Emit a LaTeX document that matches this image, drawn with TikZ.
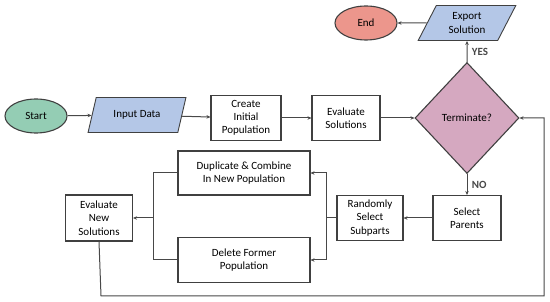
\documentclass[tikz,border=0pt]{standalone}
\usepackage{fontspec}
\setmainfont{Carlito}
\usepackage{tikz}
\usetikzlibrary{arrows.meta, shapes.geometric, positioning}
\definecolor{startgreen}{RGB}{148,205,180}
\definecolor{endred}{RGB}{236,150,140}
\definecolor{iobblue}{RGB}{180,199,231}
\definecolor{decmauve}{RGB}{213,168,192}
\definecolor{edge}{RGB}{64,64,64}
\definecolor{wire}{RGB}{72,72,72}

\begin{document}
\begin{tikzpicture}[
          x=1pt, y=-1pt,
          font=\fontsize{11}{13.3}\selectfont,
          terminal/.style={
              ellipse,
              draw=edge,
              line width=1.1pt,
              minimum width=62pt,
              minimum height=34pt,
              inner sep=0pt
            },
          io/.style={
              trapezium,
              trapezium left angle=62,
              trapezium right angle=118,
              trapezium stretches=true,
              draw=edge,
              fill=iobblue,
              line width=0.9pt,
              minimum width=98pt,
              minimum height=35pt,
              inner sep=0pt,
              align=center
            },
          stepbox/.style={
              draw=edge,
              fill=white,
              line width=1.1pt,
              minimum height=45pt,
              inner sep=0pt,
              align=center
            },
          decision/.style={
              diamond,
              draw=edge,
              fill=decmauve,
              line width=1.1pt,
              minimum width=104pt,
              minimum height=111pt,
              inner sep=0pt
            },
          tag/.style={font=\fontsize{11}{13}\selectfont\bfseries},
          line/.style={wire, line width=1.0pt},
          arr/.style={line, -{Stealth[length=4pt, width=3.5pt]}}
        ]
        \useasboundingbox (0,0) rectangle (550,302);
        % main row
        \node[terminal, fill=startgreen] (start) at (36,116) {Start};
        \node[io] (input) at (137,115) {Input Data};
        \node[stepbox, minimum width=70pt] (create) at (246,118) {Create\\Initial\\Population};
        \node[stepbox, minimum width=68pt] (evalsol) at (346,118) {Evaluate\\Solutions};
        \node[decision] (term) at (467,118) {Terminate?};
        % top row
        \node[io] (export) at (467,23) {Export\\Solution};
        \node[terminal, fill=endred] (end) at (366,23) {End};
        % bottom part
        \node[stepbox, minimum width=68pt] (parents) at (467,218) {Select\\Parents};
        \node[stepbox, minimum width=66pt] (subparts) at (370,218) {Randomly\\Select\\Subparts};
        \node[stepbox, minimum width=132pt, minimum height=44pt] (dup) at (244,173) {Duplicate \& Combine\\In New Population};
        \node[stepbox, minimum width=132pt] (del) at (244,260) {Delete Former\\Population};
        \node[stepbox, minimum width=67pt, minimum height=46pt] (evalnew) at (99,218) {Evaluate\\New\\Solutions};
        \coordinate (split) at (326,218);
        \coordinate (merge) at (153,218);
        \coordinate (loopL) at (101,296);
        \coordinate (loopR) at (544,296);

        \draw[arr] (start) -- (input);
        \draw[arr] (input) -- (create);
        \draw[arr] (create) -- (evalsol);
        \draw[arr] (evalsol) -- (term);
        \draw[arr] (term.north) -- node[tag, right=1pt] {YES} (export);
        \draw[arr] (export) -- (end);
        \draw[arr] (term.south) -- node[tag, right=1pt] {NO} (parents);
        \draw[arr] (parents) -- (subparts);
        \draw[line] (subparts) -- (split);
        \draw[arr] (split) |- (dup);
        \draw[arr] (split) |- (del);
        \draw[line] (dup) -| (merge);
        \draw[line] (del) -| (merge);
        \draw[arr] (merge) -- (evalnew);
        \draw[arr] (evalnew.south) -- (loopL) -- (loopR) |- (term.east);
      \end{tikzpicture}
\end{document}
